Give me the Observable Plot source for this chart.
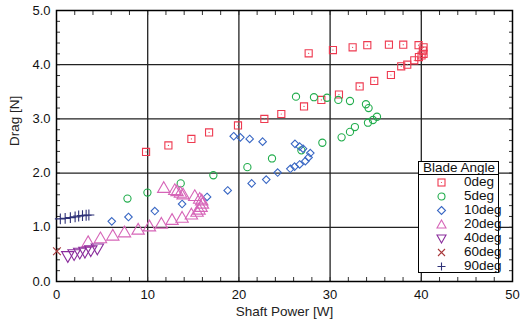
<!DOCTYPE html>
<html><head><meta charset="utf-8">
<script src="https://cdn.jsdelivr.net/npm/d3@7"></script>
<script src="https://cdn.jsdelivr.net/npm/@observablehq/plot@0.6"></script>
<style>
body{margin:0;background:#fff;font-family:"Liberation Sans",Arial,sans-serif;}
#wrap{position:relative;width:526px;height:329px;}
#legend{position:absolute;left:418px;top:161px;width:81px;height:112px;border:1.3px solid #000;background:#fff;box-sizing:border-box;font-size:13.5px;color:#111;overflow:visible;}
#legend .t{height:12px;line-height:12px;border-bottom:1.3px solid #000;padding-left:4px;}
#legend .r{height:14px;line-height:14px;position:relative;}
#legend .r svg{position:absolute;left:17px;top:2px;}
#legend .r span{position:absolute;left:45px;top:0px;}
</style></head><body><div id="wrap"></div>
<script>
const s0x=[9.82,12.27,14.79,16.73,19.9,22.79,24.65,27.14,29.04,30.97,33.24,34.84,36.67,37.8,38.46,39.23,39.74,40.03,40.25,40.17,40.25,39.7,38.02,36.45,34.08,32.47,30.31,27.65];
const s0y=[2.39,2.51,2.63,2.75,2.88,3.0,3.09,3.23,3.35,3.45,3.6,3.7,3.81,3.97,4.0,4.08,4.14,4.17,4.2,4.26,4.32,4.36,4.37,4.37,4.36,4.32,4.27,4.21];
const s5x=[7.78,9.97,13.62,17.2,20.93,23.63,26.85,29.15,31.26,32.18,32.72,34.15,34.7,35.14,34.22,33.93,32.18,30.9,29.66,28.23,26.26];
const s5y=[1.53,1.64,1.81,1.96,2.11,2.27,2.42,2.56,2.66,2.76,2.85,2.93,2.98,3.04,3.2,3.27,3.33,3.35,3.39,3.4,3.41];
const s10x=[6.06,7.89,10.78,13.77,16.51,18.77,21.4,23.0,24.25,25.64,26.11,26.66,27.28,27.64,27.83,27.03,26.66,26.15,22.6,21.18,20.16,19.43];
const s10y=[1.11,1.19,1.3,1.43,1.56,1.68,1.81,1.88,2.01,2.08,2.12,2.16,2.22,2.29,2.37,2.45,2.49,2.54,2.58,2.63,2.66,2.68];
const s20x=[3.47,4.82,6.17,7.45,8.95,10.19,11.5,12.67,13.77,14.79,15.41,15.63,15.85,16.0,15.92,15.7,15.16,13.88,13.59,13.22,12.97,11.76];
const s20y=[0.71,0.78,0.83,0.89,0.94,1.0,1.05,1.12,1.16,1.22,1.27,1.31,1.36,1.42,1.48,1.51,1.56,1.59,1.62,1.65,1.67,1.71];
const s40x=[1.24,1.93,2.55,3.12,3.76,4.48];
const s40y=[0.485,0.52,0.548,0.565,0.592,0.625];
const s60x=[0.05];
const s60y=[0.56];
const s90x=[0.42,0.95,1.52,2.04,2.43,2.85,3.25,3.55];
const s90y=[1.155,1.165,1.178,1.192,1.208,1.216,1.222,1.228];
const xTicks=[0,10,20,30,40,50];
const yTicks=[0,1,2,3,4,5];
const labels=["0deg","5deg","10deg","20deg","40deg","60deg","90deg"];
const colors=["#ee3a50","#22ad4d","#3a68c4","#d665b8","#8a2c9c","#a8383a","#2f3278"];

const tri = (down)=>({draw(ctx,size){const y=-Math.sqrt(size/(Math.sqrt(3)*3));const k=down?-1:1;ctx.moveTo(0,k*y*2);ctx.lineTo(-Math.sqrt(3)*y,-k*y);ctx.lineTo(Math.sqrt(3)*y,-k*y);ctx.closePath();}});
const rows=(xs,ys)=>xs.map((x,i)=>({x,y:ys[i]}));
const d0=rows(s0x,s0y),d5=rows(s5x,s5y),d10=rows(s10x,s10y),d20=rows(s20x,s20y),d40=rows(s40x,s40y),d60=rows(s60x,s60y),d90=rows(s90x,s90y);
const minorY=d3.range(0,5.01,0.2), minorX=d3.range(0,50.1,2);
const sw=1.1;
const chart=Plot.plot({
  width:526,height:329,marginLeft:56,marginRight:14,marginTop:10,marginBottom:48,
  style:{fontFamily:"Liberation Sans, Arial, sans-serif",fontSize:"13px",color:"#111",background:"#fff"},
  x:{domain:[0,50],label:null},y:{domain:[0,5],label:null},
  marks:[
    Plot.gridX(xTicks.slice(1,-1),{stroke:"#222",strokeOpacity:1,strokeWidth:1.3}),
    Plot.gridY(yTicks.slice(1,-1),{stroke:"#222",strokeOpacity:1,strokeWidth:1.3}),
    Plot.axisY(minorY,{anchor:"left",tickSize:-4,text:null,label:null,stroke:"#333"}),
    Plot.axisY(minorY,{anchor:"right",tickSize:-4,text:null,label:null,stroke:"#333"}),
    Plot.axisX(minorX,{anchor:"bottom",tickSize:-4,text:null,label:null,stroke:"#333"}),
    Plot.axisX(minorX,{anchor:"top",tickSize:-4,text:null,label:null,stroke:"#333"}),
    Plot.axisY(yTicks,{anchor:"left",tickSize:0,tickPadding:6,tickFormat:d3.format(".1f"),fontSize:13,label:null}),
    Plot.axisX(xTicks,{anchor:"bottom",tickSize:0,tickPadding:8,fontSize:13,label:null}),
    Plot.frame({stroke:"#000",strokeWidth:1.5}),
    Plot.dot(d0,{x:"x",y:"y",symbol:"square",r:4,stroke:colors[0],strokeWidth:sw}),
    Plot.dot(d0,{x:"x",y:"y",r:0.6,fill:colors[0]}),
    Plot.dot(d5,{x:"x",y:"y",symbol:"circle",r:3.6,stroke:colors[1],strokeWidth:sw}),
    Plot.dot(d10,{x:"x",y:"y",symbol:"diamond2",r:3.4,stroke:colors[2],strokeWidth:sw}),
    Plot.dot(d20,{x:"x",y:"y",symbol:tri(false),r:4.6,stroke:colors[3],strokeWidth:sw}),
    Plot.dot(d40,{x:"x",y:"y",symbol:tri(true),r:4.6,stroke:colors[4],strokeWidth:sw}),
    Plot.dot(d60,{x:"x",y:"y",symbol:"times",r:3.6,stroke:colors[5],strokeWidth:sw}),
    Plot.dot(d90,{x:"x",y:"y",symbol:"plus",r:3.6,stroke:colors[6],strokeWidth:sw}),
    Plot.text(["Shaft Power [W]"],{frameAnchor:"bottom",dy:34,fontSize:13.5,fill:"#222"}),
    Plot.text(["Drag [N]"],{frameAnchor:"left",dx:-42,rotate:-90,fontSize:13.5,fill:"#222"})
  ]
});
const wrap=document.getElementById("wrap");
wrap.appendChild(chart);
const syms=[
 '<rect x="2" y="2" width="7" height="7" fill="none" stroke="C" stroke-width="1.1"/><circle cx="5.5" cy="5.5" r="0.6" fill="C"/>',
 '<circle cx="5.5" cy="5.5" r="3.5" fill="none" stroke="C" stroke-width="1.1"/>',
 '<path d="M5.5 1.5L9.5 5.5L5.5 9.5L1.5 5.5Z" fill="none" stroke="C" stroke-width="1.1"/>',
 '<path d="M5.5 1L10 9L1 9Z" fill="none" stroke="C" stroke-width="1.1"/>',
 '<path d="M5.5 10L10 2L1 2Z" fill="none" stroke="C" stroke-width="1.1"/>',
 '<path d="M2 2L9 9M9 2L2 9" stroke="C" stroke-width="1.1"/>',
 '<path d="M5.5 1.5V9.5M1.5 5.5H9.5" stroke="C" stroke-width="1.1"/>'
];
let html='<div class="t">Blade Angle</div>';
labels.forEach((l,i)=>{html+=`<div class="r"><svg width="11" height="11">${syms[i].replace(/C/g,colors[i])}</svg><span>${l}</span></div>`;});
const lg=document.createElement("div");lg.id="legend";lg.innerHTML=html;wrap.appendChild(lg);
</script></body></html>
